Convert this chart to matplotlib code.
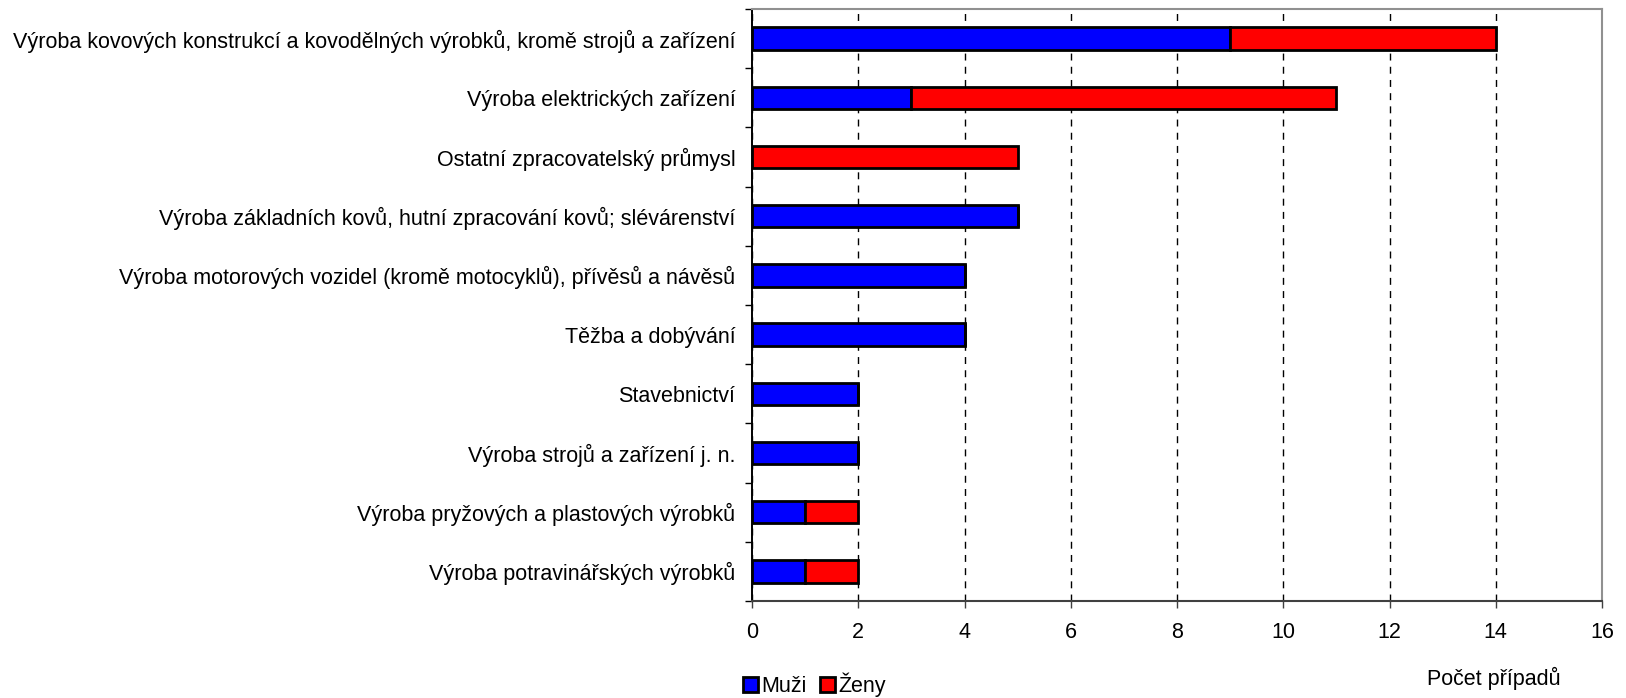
import matplotlib.pyplot as plt
import numpy as np
from matplotlib.patches import Patch

plt.rcParams['font.family'] = ['Liberation Sans', 'DejaVu Sans']

categories = [
    "Výroba kovových konstrukcí a kovodělných výrobků, kromě strojů a zařízení",
    "Výroba elektrických zařízení",
    "Ostatní zpracovatelský průmysl",
    "Výroba základních kovů, hutní zpracování kovů; slévárenství",
    "Výroba motorových vozidel (kromě motocyklů), přívěsů a návěsů",
    "Těžba a dobývání",
    "Stavebnictví",
    "Výroba strojů a zařízení j. n.",
    "Výroba pryžových a plastových výrobků",
    "Výroba potravinářských výrobků",
]
muzi = [9, 3, 0, 5, 4, 4, 2, 2, 1, 1]
zeny = [5, 8, 5, 0, 0, 0, 0, 0, 1, 1]
x_ticks = [0, 2, 4, 6, 8, 10, 12, 14, 16]

fs = 15.5
fig = plt.figure(figsize=(16.26, 6.98), dpi=100)
ax = fig.add_axes([752 / 1626, 1 - 601 / 698, 850 / 1626, 592 / 698])

y = np.arange(len(categories))
ax.barh(y, muzi, height=0.38, color='#0000FF', edgecolor='black', linewidth=2.0, zorder=3)
ax.barh(y, zeny, left=muzi, height=0.38, color='#FF0000', edgecolor='black', linewidth=2.0, zorder=3)

ax.set_xlim(0, 16)
ax.set_ylim(len(categories) - 0.5, -0.5)
ax.set_xticks(x_ticks)
ax.set_xticklabels([str(t) for t in x_ticks], fontsize=fs)
ax.set_yticks(y)
ax.set_yticklabels(categories, fontsize=fs)
ax.set_yticks(np.arange(len(categories) + 1) - 0.5, minor=True)
ax.tick_params(axis='y', which='major', length=0, pad=12)
ax.tick_params(axis='y', which='minor', length=5, width=1, color='black')
ax.tick_params(axis='x', length=5, width=1, color='#404040', pad=10)

ax.grid(axis='x', color='black', linestyle=(0, (5, 4.5)), linewidth=1.0, zorder=0)
ax.set_axisbelow(True)

ax.spines['left'].set_color('black')
ax.spines['left'].set_linewidth(1.4)
ax.spines['bottom'].set_color('#404040')
ax.spines['bottom'].set_linewidth(1.5)
ax.spines['top'].set_color('#909090')
ax.spines['top'].set_linewidth(1.5)
ax.spines['right'].set_color('#909090')
ax.spines['right'].set_linewidth(1.5)

handles = [Patch(facecolor='#0000FF', edgecolor='black', linewidth=2.0, label='Muži'),
           Patch(facecolor='#FF0000', edgecolor='black', linewidth=2.0, label='Ženy')]
fig.legend(handles=handles, loc='center left', bbox_to_anchor=(743 / 1626, 1 - 685 / 698),
           ncol=2, frameon=False, fontsize=fs, handlelength=0.7, handleheight=0.7,
           handletextpad=0.15, columnspacing=0.6, borderpad=0, borderaxespad=0)

fig.text(1494 / 1626, 1 - 678 / 698, "Počet případů", fontsize=fs, ha='center', va='center')

fig.savefig("out.png", dpi=100)
